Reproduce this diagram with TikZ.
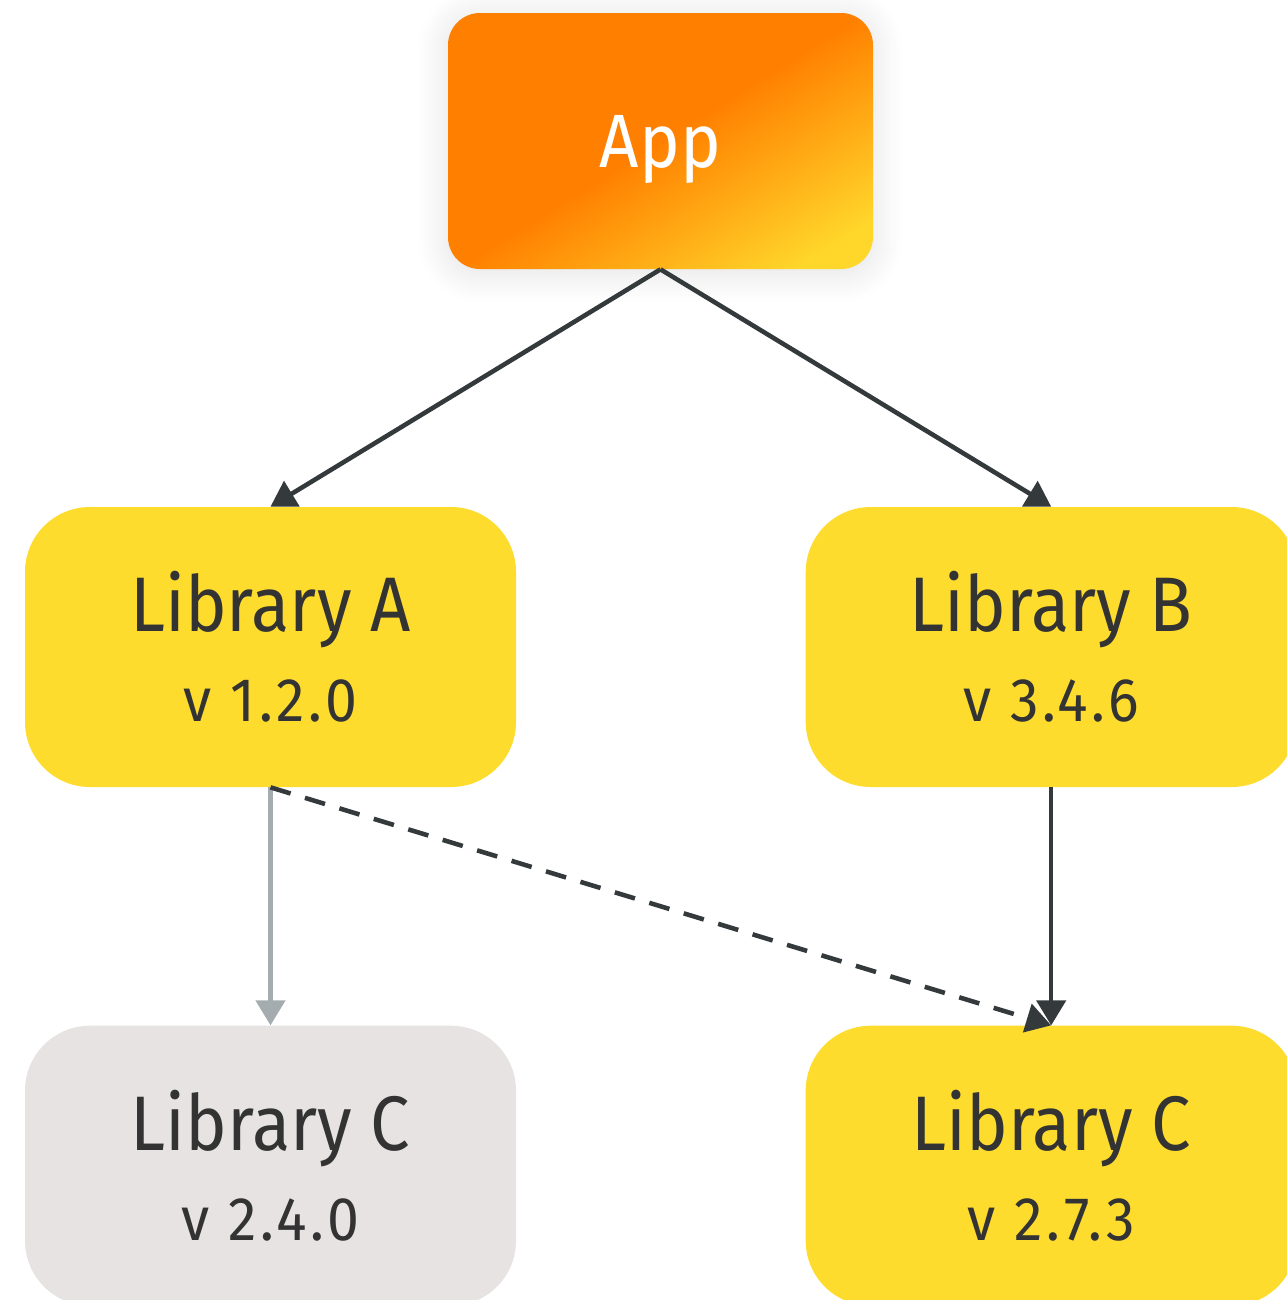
\documentclass[tikz,border=0pt]{standalone}
\usepackage{fontspec}
\setmainfont[FakeStretch=0.91]{Fira Sans}
\newfontfamily\verfont[LetterSpace=6, FakeStretch=0.93]{Fira Sans}
\usepackage{tikz}
\usetikzlibrary{positioning, arrows.meta,
shadows.blur % soft glow under the app box
}
\definecolor{depyellow}{HTML}{FDDC2E}
\definecolor{depgray}{HTML}{E6E3E2}
\definecolor{deptext}{HTML}{333333}
\definecolor{deparrow}{HTML}{343A3C}
\definecolor{depfaded}{HTML}{A4ACAF}
\definecolor{apporange}{HTML}{FF8000}
\definecolor{appyellow}{HTML}{FFD62A}
% orange in the upper part, fading to yellow at the bottom
\pgfdeclareverticalshading{appshade}{100bp}{%
  color(0bp)=(appyellow); color(22bp)=(appyellow);
  color(50bp)=(apporange); color(100bp)=(apporange)}
\tikzset{%
  lib/.style={rounded corners=1.3cm, minimum width=9.82cm, minimum height=5.6cm,
    align=center, text=deptext, inner sep=0pt,
    font=\fontsize{44}{51}\selectfont}, % one box per library version
  dep/.style={draw=deparrow, line width=2.6pt,
    -{Triangle[length=0.5cm, width=0.58cm]}}
}

\begin{document}
\begin{tikzpicture}[node distance=4.76cm and 5.78cm]

\clip (0,0) rectangle (25.74,-26);

\node[rounded corners=0.64cm, minimum width=8.5cm, minimum height=5.12cm,
  shading=appshade, shading angle=32, text=white, text depth=0pt,
  font=\fontsize{43}{50}\selectfont,
  blur shadow={shadow xshift=0pt, shadow yshift=-2pt, shadow blur steps=10,
  shadow blur radius=0.6cm, shadow opacity=12}] (app) at (13.21,-2.82) {App};

\node[lib, fill=depyellow] (libA) at (5.41,-12.94)
  {Library A\\{\verfont\fontsize{35}{51}\selectfont v 1.2.0}};
\node[lib, fill=depyellow, right=of libA] (libB)
  {Library B\\{\verfont\fontsize{35}{51}\selectfont v 3.4.6}};
\node[lib, fill=depgray, below=of libA] (libCold)
  {Library C\\{\verfont\fontsize{35}{51}\selectfont v 2.4.0}};
\node[lib, fill=depyellow, below=of libB] (libCnew)
  {Library C\\{\verfont\fontsize{35}{51}\selectfont v 2.7.3}};

\draw[dep] (app.south) -- (libA.north);
\draw[dep] (app.south) -- (libB.north);
\draw[dep, draw=depfaded, fill=depfaded] (libA.south) -- (libCold.north);
\draw[dep] (libB.south) -- (libCnew.north);
\draw[dep, dash pattern=on 0.42cm off 0.3cm] (libA.south) -- (libCnew.north);

\end{tikzpicture}
\end{document}
